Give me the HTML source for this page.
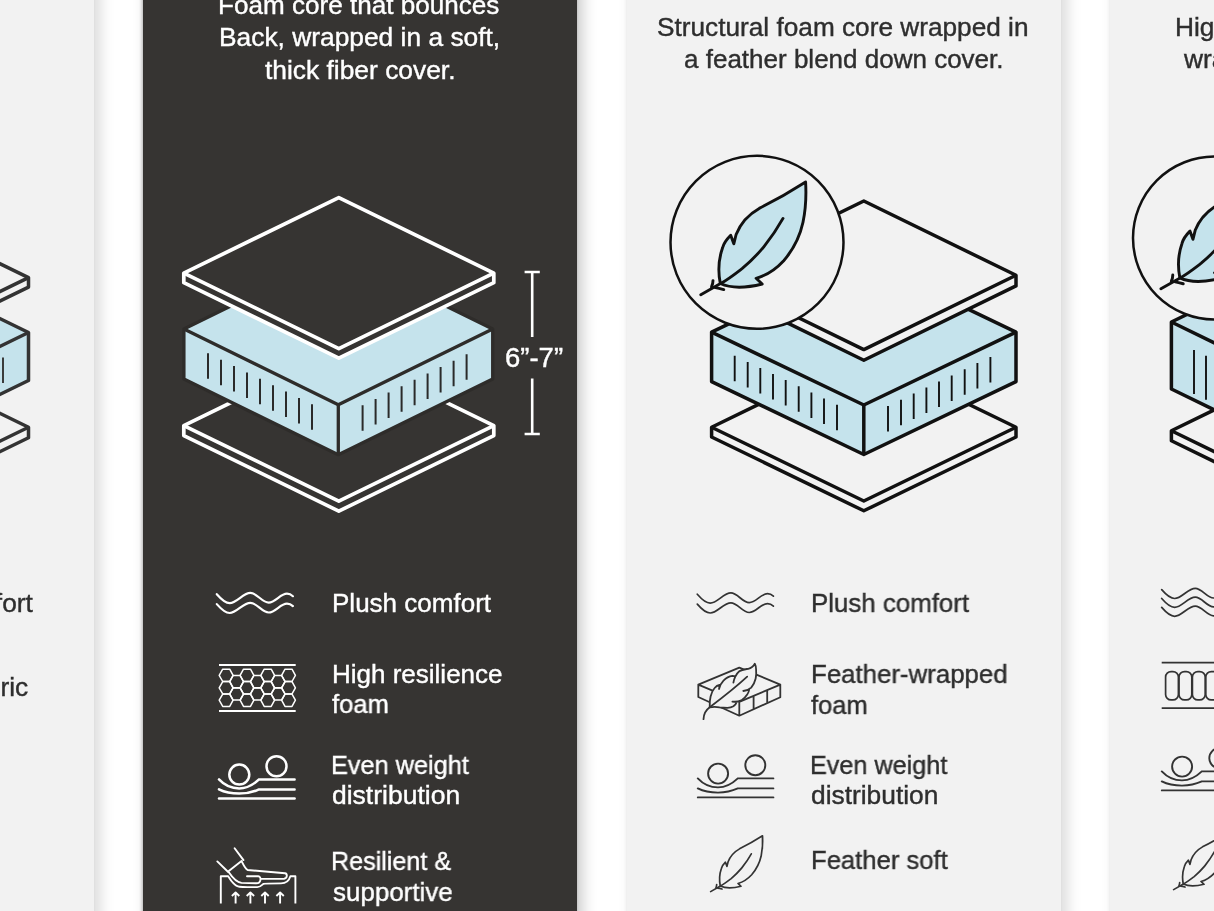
<!DOCTYPE html>
<html lang="en">
<head>
<meta charset="utf-8">
<title>Cushion fill comparison</title>
<style>
html,body{margin:0;padding:0;width:1214px;height:911px;overflow:hidden;background:#ffffff;}
#root{position:relative;width:1214px;height:911px;overflow:hidden;background:#ffffff;font-family:"Liberation Sans",sans-serif;}
.p{position:absolute;top:-40px;height:1000px;width:434px;background:#f2f2f2;box-shadow:6px 0 14px rgba(0,0,0,0.15),-1px 0 3px rgba(0,0,0,0.05);}
.p.d{background:#363432;box-shadow:5px 0 14px rgba(0,0,0,0.22),-1px 0 3px rgba(0,0,0,0.25);}
#g{position:absolute;left:0;top:0;width:1214px;height:911px;}
.t{position:absolute;color:#2e2e2e;white-space:nowrap;line-height:30px;transform-origin:0 0;will-change:transform;-webkit-text-stroke:0.4px currentColor;}
.t.w{color:#ffffff;}
</style>
</head>
<body>
<div id="root">
<div class="p" style="left:-340px"></div>
<div class="p d" style="left:143px"></div>
<div class="p" style="left:626.5px"></div>
<div class="p" style="left:1109.5px"></div>
<svg id="g" viewBox="0 0 1214 911" width="1214" height="911">
<polygon points="-123.5,353.3 28.5,427.3 28.5,437.8 -123.5,511.8 -275.5,437.8 -275.5,427.3" fill="#f2f2f2" stroke="#333333" stroke-width="3.5" stroke-linejoin="round"/><polyline points="-275.5,427.3 -123.5,501.3 28.5,427.3" fill="none" stroke="#333333" stroke-width="3.5" stroke-linejoin="round"/>
<polygon points="-123.5,258.5 28.5,332.5 28.5,380.5 -123.5,454.5 -275.5,380.5 -275.5,332.5" fill="#c5e3ec" stroke="#333333" stroke-width="3.5" stroke-linejoin="round"/><polyline points="-275.5,332.5 -123.5,406.5 28.5,332.5" fill="none" stroke="#333333" stroke-width="3.5" stroke-linejoin="round"/><line x1="-123.5" y1="406.5" x2="-123.5" y2="454.5" stroke="#333333" stroke-width="3.5"/><path d="M3 357.4v25.5" stroke="#333333" stroke-width="1.9" fill="none"/>
<polygon points="-123.5,203.6 28.5,277.6 28.5,287.1 -123.5,361.1 -275.5,287.1 -275.5,277.6" fill="#f2f2f2" stroke="#333333" stroke-width="3.5" stroke-linejoin="round"/><polyline points="-275.5,277.6 -123.5,351.6 28.5,277.6" fill="none" stroke="#333333" stroke-width="3.5" stroke-linejoin="round"/>
<polygon points="338.8,350.1 493.8,425.6 493.8,435.6 338.8,511.1 183.8,435.6 183.8,425.6" fill="#363432" stroke="#ffffff" stroke-width="3.7" stroke-linejoin="round"/><polyline points="183.8,425.6 338.8,501.1 493.8,425.6" fill="none" stroke="#ffffff" stroke-width="3.7" stroke-linejoin="round"/>
<polygon points="338.3,253.3 492.7,329 492.7,379 338.3,454.7 183.9,379 183.9,329" fill="#c5e3ec" stroke="#2e2c2a" stroke-width="3.3" stroke-linejoin="round"/><polyline points="183.9,329 338.3,404.7 492.7,329" fill="none" stroke="#2e2c2a" stroke-width="3.3" stroke-linejoin="round"/><line x1="338.3" y1="404.7" x2="338.3" y2="454.7" stroke="#2e2c2a" stroke-width="3.3"/><path d="M208 353.3v25.5M221 359.7v25.5M234 366.1v25.5M247 372.4v25.5M260 378.8v25.5M273 385.2v25.5M286 391.6v25.5M299 397.9v25.5M312 404.3v25.5M466.6 354.3v25.5M453.6 360.7v25.5M440.6 367v25.5M427.6 373.4v25.5M414.6 379.8v25.5M401.6 386.2v25.5M388.6 392.5v25.5M375.6 398.9v25.5M362.6 405.3v25.5" stroke="#2a2a2a" stroke-width="2" fill="none"/>
<polygon points="338.8,197.6 493.8,273.1 493.8,282.7 338.8,358.2 183.8,282.7 183.8,273.1" fill="#363432" stroke="#ffffff" stroke-width="3.7" stroke-linejoin="round"/><polyline points="183.8,273.1 338.8,348.6 493.8,273.1" fill="none" stroke="#ffffff" stroke-width="3.7" stroke-linejoin="round"/>
<path d="M524.6 272H539.8M532.2 272V337M532.2 378.6V434M524.6 434H539.8" stroke="#ffffff" stroke-width="2.6" fill="none"/>
<polygon points="863.8,353.4 1016,427.2 1016,437 863.8,510.8 711.6,437 711.6,427.2" fill="#f2f2f2" stroke="#111111" stroke-width="3.5" stroke-linejoin="round"/><polyline points="711.6,427.2 863.8,501 1016,427.2" fill="none" stroke="#111111" stroke-width="3.5" stroke-linejoin="round"/>
<polygon points="863.8,259.2 1016,332.1 1016,381.6 863.8,454.5 711.6,381.6 711.6,332.1" fill="#c5e3ec" stroke="#111111" stroke-width="3.5" stroke-linejoin="round"/><polyline points="711.6,332.1 863.8,405 1016,332.1" fill="none" stroke="#111111" stroke-width="3.5" stroke-linejoin="round"/><line x1="863.8" y1="405" x2="863.8" y2="454.5" stroke="#111111" stroke-width="3.5"/><path d="M734.7 355.7v25.5M747.7 361.9v25.5M760.3 367.9v25.5M773 374v25.5M785.7 380.1v25.5M798.7 386.3v25.5M811.4 392.4v25.5M824 398.4v25.5M837 404.7v25.5M888 405.9v25.5M901 399.7v25.5M913.7 393.6v25.5M926.4 387.5v25.5M939 381.5v25.5M951.7 375.4v25.5M964.7 369.2v25.5M977.4 363.1v25.5M990.4 356.9v25.5" stroke="#111111" stroke-width="1.9" fill="none"/>
<polygon points="863.8,201 1016,275.3 1016,285.9 863.8,360.2 711.6,285.9 711.6,275.3" fill="#f2f2f2" stroke="#111111" stroke-width="3.5" stroke-linejoin="round"/><polyline points="711.6,275.3 863.8,349.6 1016,275.3" fill="none" stroke="#111111" stroke-width="3.5" stroke-linejoin="round"/>
<circle cx="757" cy="242.3" r="86.5" fill="#f2f2f2" stroke="#111111" stroke-width="2.5"/>
<g transform="translate(805.6 182) scale(1) translate(-805.6 -182)" fill="#c5e3ec" stroke="#111111" stroke-width="2.9" stroke-linejoin="round" stroke-linecap="round"><path d="M805.6 182 C790 192 770 203 759.2 208.4 C751 213 741 222 736.1 234.5 L733.8 243.8 L730.7 235.3 C726 240 723.5 244 722.5 248 C719 258 718 272 720.3 283.5 C730 288 745 288.3 762.2 284 L756.1 278.3 C768 275 777 268 783.7 260.7 C793 250 800 236 803 222.3 C805.6 210 806.4 196 805.6 182 Z"/><path d="M783 218.4 C776 231 770 239 763.8 246.8 C757 255 750 262 742.3 268.4 C735 274 728 279.5 720.5 283.6 L700.8 294.8" fill="none"/><path d="M713 280.6 C713 283 712.5 285 711.5 287 M715.4 287.6 C718 288 721 288.8 723.8 289.6" fill="none"/></g>
<polygon points="1323.4,356.7 1475.4,430.7 1475.4,440.7 1323.4,514.7 1171.4,440.7 1171.4,430.7" fill="#f2f2f2" stroke="#111111" stroke-width="3.5" stroke-linejoin="round"/><polyline points="1171.4,430.7 1323.4,504.7 1475.4,430.7" fill="none" stroke="#111111" stroke-width="3.5" stroke-linejoin="round"/>
<polygon points="1323.4,248 1475.4,322 1475.4,389 1323.4,463 1171.4,389 1171.4,322" fill="#c5e3ec" stroke="#111111" stroke-width="3.5" stroke-linejoin="round"/><polyline points="1171.4,322 1323.4,396 1475.4,322" fill="none" stroke="#111111" stroke-width="3.5" stroke-linejoin="round"/><line x1="1323.4" y1="396" x2="1323.4" y2="463" stroke="#111111" stroke-width="3.5"/><path d="M1194 350v44M1206 355.8v44" stroke="#111111" stroke-width="1.9" fill="none"/>
<circle cx="1214.5" cy="238" r="81.5" fill="#f2f2f2" stroke="#111111" stroke-width="2.5"/>
<g transform="translate(1262.6 179.4) scale(0.97) translate(-805.6 -182)" fill="#c5e3ec" stroke="#111111" stroke-width="3" stroke-linejoin="round" stroke-linecap="round"><path d="M805.6 182 C790 192 770 203 759.2 208.4 C751 213 741 222 736.1 234.5 L733.8 243.8 L730.7 235.3 C726 240 723.5 244 722.5 248 C719 258 718 272 720.3 283.5 C730 288 745 288.3 762.2 284 L756.1 278.3 C768 275 777 268 783.7 260.7 C793 250 800 236 803 222.3 C805.6 210 806.4 196 805.6 182 Z"/><path d="M783 218.4 C776 231 770 239 763.8 246.8 C757 255 750 262 742.3 268.4 C735 274 728 279.5 720.5 283.6 L700.8 294.8" fill="none"/><path d="M713 280.6 C713 283 712.5 285 711.5 287 M715.4 287.6 C718 288 721 288.8 723.8 289.6" fill="none"/></g>
<path d="M216.8 594.2 c4 4.6 8.2 8.9 12.9 8.9 c7 0 13.4 -10.2 20.7 -10.2 c6.6 0 11.6 9.7 18.3 9.7 c6.8 0 11.6 -8.9 18.3 -8.9 c2.4 0 4.4 1.1 5.9 2.5" fill="none" stroke="#ffffff" stroke-width="2.2" stroke-linecap="round"/><path d="M216.8 604.1 c4 4.6 8.2 8.9 12.9 8.9 c7 0 13.4 -10.2 20.7 -10.2 c6.6 0 11.6 9.7 18.3 9.7 c6.8 0 11.6 -8.9 18.3 -8.9 c2.4 0 4.4 1.1 5.9 2.5" fill="none" stroke="#ffffff" stroke-width="2.2" stroke-linecap="round"/>
<g fill="none" stroke="#ffffff" stroke-width="1.5" stroke-linejoin="round"><path d="M219 665.1H295.7M219 711H295.7" stroke-width="2"/><polygon points="219.2,675.4 222.7,669.2 229.7,669.2 233.1,675.4 229.7,681.5 222.7,681.5"/><polygon points="219.2,687.8 222.7,681.6 229.7,681.6 233.1,687.8 229.7,693.9 222.7,693.9"/><polygon points="219.2,700.2 222.7,694.1 229.7,694.1 233.1,700.2 229.7,706.4 222.7,706.4"/><polygon points="229.7,681.6 233.1,675.5 240.1,675.5 243.5,681.6 240.1,687.8 233.1,687.8"/><polygon points="229.7,694 233.1,687.9 240.1,687.9 243.5,694 240.1,700.1 233.1,700.1"/><polygon points="240.1,675.4 243.5,669.2 250.5,669.2 253.9,675.4 250.5,681.5 243.5,681.5"/><polygon points="240.1,687.8 243.5,681.6 250.5,681.6 253.9,687.8 250.5,693.9 243.5,693.9"/><polygon points="240.1,700.2 243.5,694.1 250.5,694.1 253.9,700.2 250.5,706.4 243.5,706.4"/><polygon points="250.4,681.6 253.8,675.5 260.8,675.5 264.2,681.6 260.8,687.8 253.8,687.8"/><polygon points="250.4,694 253.8,687.9 260.8,687.9 264.2,694 260.8,700.1 253.8,700.1"/><polygon points="260.8,675.4 264.2,669.2 271.2,669.2 274.6,675.4 271.2,681.5 264.2,681.5"/><polygon points="260.8,687.8 264.2,681.6 271.2,681.6 274.6,687.8 271.2,693.9 264.2,693.9"/><polygon points="260.8,700.2 264.2,694.1 271.2,694.1 274.6,700.2 271.2,706.4 264.2,706.4"/><polygon points="271.2,681.6 274.6,675.5 281.6,675.5 285.1,681.6 281.6,687.8 274.6,687.8"/><polygon points="271.2,694 274.6,687.9 281.6,687.9 285.1,694 281.6,700.1 274.6,700.1"/><polygon points="281.6,675.4 285,669.2 292,669.2 295.4,675.4 292,681.5 285,681.5"/><polygon points="281.6,687.8 285,681.6 292,681.6 295.4,687.8 292,693.9 285,693.9"/><polygon points="281.6,700.2 285,694.1 292,694.1 295.4,700.2 292,706.4 285,706.4"/></g>
<g transform="translate(-478.8 1)" fill="none" stroke="#ffffff" stroke-width="2.5" stroke-linecap="round"><circle cx="718.1" cy="773.6" r="10"/><circle cx="755.3" cy="765.2" r="10"/><path d="M697.8 778.4 C703 784 710 787.4 718 787.4 C726 787.4 733 783 737.8 778.4 H773.4"/><path d="M697.8 788.4 C703 791 710 792.6 718 792.6 C726 792.6 733 790.6 737.8 788.4 H773.4"/><path d="M697.8 797.4 H773.4"/></g>
<g fill="none" stroke="#ffffff" stroke-width="1.9" stroke-linejoin="round" stroke-linecap="round"><path d="M220.8 903.6V876.3H228.2C230 879 231 881 232.6 882.4C235 885 237 886.6 239.5 886.7C242 887.1 245 887.1 247.4 887.1H257.3C260 887.1 261.5 885.5 263.3 883.9C265 883.4 270 883.4 281 883.4C286 883.4 289 881 290.4 876.3H295.4V903.6" stroke-linecap="butt"/><path d="M235.6 903.6V892.6M231.9 896l3.7 -3.6l3.7 3.6" stroke-linecap="butt"/><path d="M250.4 903.6V892.6M246.7 896l3.7 -3.6l3.7 3.6" stroke-linecap="butt"/><path d="M265 903.6V892.6M261.3 896l3.7 -3.6l3.7 3.6" stroke-linecap="butt"/><path d="M280.1 903.6V892.6M276.4 896l3.7 -3.6l3.7 3.6" stroke-linecap="butt"/><path d="M234.6 848.3L243.5 860.1M217.3 861.4L228.2 872M241.5 861.1L228.2 871.5"/><path d="M241.8 861.6C243.5 865 245 868.5 247.6 870L285 873.2C287.5 873.6 287.6 878.4 284 878.7L261.3 878.9"/><path d="M247 876.3H258.3C261.5 876.3 261.5 883.2 256.3 883.3L241.5 882.9C236 882 232 877 229 872.5"/></g>
<path d="M697.3 594.2 c4 4.6 8.2 8.9 12.9 8.9 c7 0 13.4 -10.2 20.7 -10.2 c6.6 0 11.6 9.7 18.3 9.7 c6.8 0 11.6 -8.9 18.3 -8.9 c2.4 0 4.4 1.1 5.9 2.5" fill="none" stroke="#333333" stroke-width="1.7" stroke-linecap="round"/><path d="M697.3 604.1 c4 4.6 8.2 8.9 12.9 8.9 c7 0 13.4 -10.2 20.7 -10.2 c6.6 0 11.6 9.7 18.3 9.7 c6.8 0 11.6 -8.9 18.3 -8.9 c2.4 0 4.4 1.1 5.9 2.5" fill="none" stroke="#333333" stroke-width="1.7" stroke-linecap="round"/>
<g fill="none" stroke="#333333" stroke-width="1.8" stroke-linejoin="round" stroke-linecap="round"><path d="M698.3 684.6L739.3 667.6L780.3 684.6V697.2L739.3 715.7L698.3 697Z M698.3 684.6L739.3 701.9L780.3 684.6M739.3 701.9V715.7M753.6 696.5V708.8M767.2 690.7V702.9"/><path fill="#f2f2f2" d="M709.7 707.3 C709.6 703 709.8 699.5 710.6 696.5 C711.5 693 712.8 690 714.6 688 C716 686.3 717.8 685.2 719.5 685 C719.6 686.3 719.4 687.7 719 689 C719.8 685.8 721.3 682.8 723.5 680.6 C726 678 729 676.3 732.4 675.9 C733.6 675.9 734.6 676.2 735.3 676.7 C734.4 678.6 733.7 680.6 733.4 682.6 C733.7 680.5 734.4 678.5 735.3 676.7 C736.2 674.6 737.6 672.7 739.3 671.3 C741.8 669.5 745 669.3 748.2 668.8 C751 668.2 753.4 666.4 754.8 663.8 C755.8 665.6 756.1 667.7 756.1 669.8 C756.4 672.8 756.3 675.8 755.6 678.7 C754.8 682 753.3 685.1 751.2 687.6 C749 689.6 746.3 690.6 743.3 691 C745.4 690.9 747.4 690.4 749.2 689.5 C749 691.3 748.3 693 747.2 694.5 C745.7 696.9 743.7 698.9 741.3 700.4 C738.6 701.6 735.5 701.9 732.4 701.6 C733.9 701.9 735.4 701.9 736.8 701.9 C736.2 703.6 735 705.1 733.4 706.3 C731.6 707.4 729.5 707.8 727.4 707.8 C724.7 707.8 722.1 707.6 719.5 707.3 C716.2 706.8 713 706.8 709.7 707.3 Z"/><path d="M703.5 719.2 C703.7 714 706 710 709.7 707.3 C722 698 735 688 747.2 676.7"/></g>
<g transform="translate(0 0)" fill="none" stroke="#333333" stroke-width="1.9" stroke-linecap="round"><circle cx="718.1" cy="773.6" r="10"/><circle cx="755.3" cy="765.2" r="10"/><path d="M697.8 778.4 C703 784 710 787.4 718 787.4 C726 787.4 733 783 737.8 778.4 H773.4"/><path d="M697.8 788.4 C703 791 710 792.6 718 792.6 C726 792.6 733 790.6 737.8 788.4 H773.4"/><path d="M697.8 797.4 H773.4"/></g>
<g transform="translate(762.5 835.8) scale(0.495) translate(-805.6 -182)" fill="none" stroke="#333333" stroke-width="3.4" stroke-linejoin="round" stroke-linecap="round"><path d="M805.6 182 C790 192 770 203 759.2 208.4 C751 213 741 222 736.1 234.5 L733.8 243.8 L730.7 235.3 C726 240 723.5 244 722.5 248 C719 258 718 272 720.3 283.5 C730 288 745 288.3 762.2 284 L756.1 278.3 C768 275 777 268 783.7 260.7 C793 250 800 236 803 222.3 C805.6 210 806.4 196 805.6 182 Z"/><path d="M783 218.4 C776 231 770 239 763.8 246.8 C757 255 750 262 742.3 268.4 C735 274 728 279.5 720.5 283.6 L700.8 294.8" fill="none"/><path d="M713 280.6 C713 283 712.5 285 711.5 287 M715.4 287.6 C718 288 721 288.8 723.8 289.6" fill="none"/></g>
<path d="M1161.7 589.6 c4 4.6 8.2 8.9 12.9 8.9 c7 0 13.4 -10.2 20.7 -10.2 c6.6 0 11.6 9.7 18.3 9.7 c6.8 0 11.6 -8.9 18.3 -8.9 c2.4 0 4.4 1.1 5.9 2.5" fill="none" stroke="#333333" stroke-width="1.7" stroke-linecap="round"/><path d="M1161.7 598.5 c4 4.6 8.2 8.9 12.9 8.9 c7 0 13.4 -10.2 20.7 -10.2 c6.6 0 11.6 9.7 18.3 9.7 c6.8 0 11.6 -8.9 18.3 -8.9 c2.4 0 4.4 1.1 5.9 2.5" fill="none" stroke="#333333" stroke-width="1.7" stroke-linecap="round"/><path d="M1161.7 607.4 c4 4.6 8.2 8.9 12.9 8.9 c7 0 13.4 -10.2 20.7 -10.2 c6.6 0 11.6 9.7 18.3 9.7 c6.8 0 11.6 -8.9 18.3 -8.9 c2.4 0 4.4 1.1 5.9 2.5" fill="none" stroke="#333333" stroke-width="1.7" stroke-linecap="round"/>
<g fill="none" stroke="#333333" stroke-width="1.7"><path d="M1161.7 662.7H1220M1161.7 708.1H1220" stroke-width="1.8"/><rect x="1165.6" y="671.6" width="12.8" height="28.3" rx="5.5" ry="5.5"/><rect x="1179" y="671.6" width="12.8" height="28.3" rx="5.5" ry="5.5"/><rect x="1192.4" y="671.6" width="12.8" height="28.3" rx="5.5" ry="5.5"/><rect x="1205.8" y="671.6" width="12.8" height="28.3" rx="5.5" ry="5.5"/></g>
<g transform="translate(464 -7)" fill="none" stroke="#333333" stroke-width="1.9" stroke-linecap="round"><circle cx="718.1" cy="773.6" r="10"/><circle cx="755.3" cy="765.2" r="10"/><path d="M697.8 778.4 C703 784 710 787.4 718 787.4 C726 787.4 733 783 737.8 778.4 H773.4"/><path d="M697.8 788.4 C703 791 710 792.6 718 792.6 C726 792.6 733 790.6 737.8 788.4 H773.4"/><path d="M697.8 797.4 H773.4"/></g>
<g transform="translate(1225.5 833.8) scale(0.495) translate(-805.6 -182)" fill="none" stroke="#333333" stroke-width="3.4" stroke-linejoin="round" stroke-linecap="round"><path d="M805.6 182 C790 192 770 203 759.2 208.4 C751 213 741 222 736.1 234.5 L733.8 243.8 L730.7 235.3 C726 240 723.5 244 722.5 248 C719 258 718 272 720.3 283.5 C730 288 745 288.3 762.2 284 L756.1 278.3 C768 275 777 268 783.7 260.7 C793 250 800 236 803 222.3 C805.6 210 806.4 196 805.6 182 Z"/><path d="M783 218.4 C776 231 770 239 763.8 246.8 C757 255 750 262 742.3 268.4 C735 274 728 279.5 720.5 283.6 L700.8 294.8" fill="none"/><path d="M713 280.6 C713 283 712.5 285 711.5 287 M715.4 287.6 C718 288 721 288.8 723.8 289.6" fill="none"/></g>
</svg>
<div class="t w" style="left:217.89px;top:-9.91px;font-size:26px;transform:scaleX(1.0033)">Foam core that bounces</div>
<div class="t w" style="left:218.87px;top:22.49px;font-size:26px;transform:scaleX(1.0133)">Back, wrapped in a soft,</div>
<div class="t w" style="left:264.80px;top:55.09px;font-size:26px;transform:scaleX(1.0139)">thick fiber cover.</div>
<div class="t " style="left:657.09px;top:11.59px;font-size:26px;transform:scaleX(1.0081)">Structural foam core wrapped in</div>
<div class="t " style="left:683.50px;top:44.19px;font-size:26px;transform:scaleX(1.0003)">a feather blend down cover.</div>
<div class="t " style="left:1175.28px;top:11.89px;font-size:26px;transform:scaleX(1.0120)">High resilience foam core</div>
<div class="t " style="left:1184.41px;top:44.39px;font-size:26px;transform:scaleX(1.0120)">wrapped in feather blend.</div>
<div class="t w" style="left:505.01px;top:342.77px;font-size:27.5px;transform:scaleX(0.9947)">6”-7”</div>
<div class="t w" style="left:331.50px;top:588.49px;font-size:26px;transform:scaleX(1.0005)">Plush comfort</div>
<div class="t w" style="left:331.50px;top:659.49px;font-size:26px;transform:scaleX(0.9978)">High resilience</div>
<div class="t w" style="left:332.40px;top:689.49px;font-size:26px;transform:scaleX(0.9814)">foam</div>
<div class="t w" style="left:331.15px;top:750.19px;font-size:26px;transform:scaleX(0.9728)">Even weight</div>
<div class="t w" style="left:331.78px;top:780.39px;font-size:26px;transform:scaleX(1.0189)">distribution</div>
<div class="t w" style="left:331.17px;top:846.49px;font-size:26px;transform:scaleX(0.9661)">Resilient &amp;</div>
<div class="t w" style="left:332.80px;top:877.49px;font-size:26px;transform:scaleX(0.9975)">supportive</div>
<div class="t " style="left:810.51px;top:588.29px;font-size:26px;transform:scaleX(0.9948)">Plush comfort</div>
<div class="t " style="left:810.51px;top:659.29px;font-size:26px;transform:scaleX(0.9931)">Feather-wrapped</div>
<div class="t " style="left:811.20px;top:689.69px;font-size:26px;transform:scaleX(0.9779)">foam</div>
<div class="t " style="left:810.26px;top:749.79px;font-size:26px;transform:scaleX(0.9692)">Even weight</div>
<div class="t " style="left:810.59px;top:779.79px;font-size:26px;transform:scaleX(1.0132)">distribution</div>
<div class="t " style="left:811.13px;top:845.19px;font-size:26px;transform:scaleX(0.9861)">Feather soft</div>
<div class="t " style="left:-127.94px;top:588.49px;font-size:26px;transform:scaleX(1.0120)">Plush comfort</div>
<div class="t " style="left:-121.47px;top:671.99px;font-size:26px;transform:scaleX(1.0120)">Cotton fabric</div>
</div>
</body>
</html>
